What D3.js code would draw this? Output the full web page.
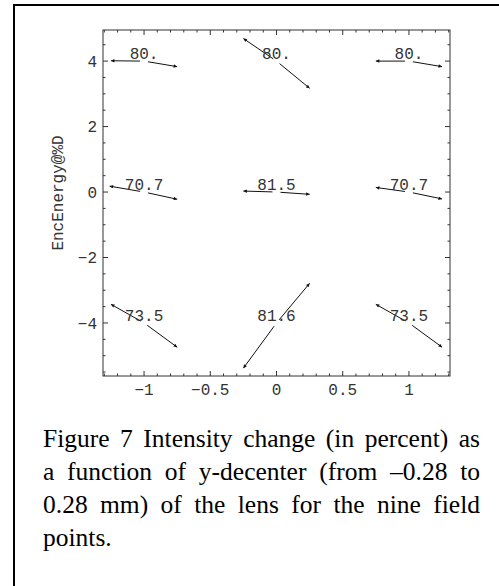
<!DOCTYPE html>
<html><head><meta charset="utf-8">
<script src="https://cdn.jsdelivr.net/npm/d3@7"></script>
<style>body{margin:0;background:#fff}svg{display:block}</style>
</head><body>
<svg id="c" width="499" height="586"></svg>
<script>
// ---- data ----
const fieldX = [-1, 0, 1, -1, 0, 1, -1, 0, 1];
const fieldY = [4, 4, 4, 0, 0, 0, -4, -4, -4];
const fieldLabels = ["80.", "80.", "80.", "70.7", "81.5", "70.7", "73.5", "81.6", "73.5"];
const leftDx = [-0.25, -0.25, -0.25, -0.26, -0.25, -0.25, -0.25, -0.25, -0.25];
const leftDy = [0.01, 0.69, 0.0, 0.18, 0.03, 0.14, 0.57, -1.38, 0.57];
const rightDx = [0.25, 0.25, 0.25, 0.25, 0.25, 0.25, 0.25, 0.25, 0.25];
const rightDy = [-0.17, -0.83, -0.17, -0.22, -0.07, -0.21, -0.74, 1.21, -0.74];
const xTicks = [-1, -0.5, 0, 0.5, 1];
const xTickLabels = ["\u22121", "\u22120.5", "0", "0.5", "1"];
const yTicks = [-4, -2, 0, 2, 4];
const yTickLabels = ["\u22124", "\u22122", "0", "2", "4"];
const yTitle = "EncEnergy@%D";
const captionLines = [
  "Figure 7 Intensity change (in percent) as",
  "a function of y-decenter (from \u20130.28 to",
  "0.28 mm) of the lens for the nine field",
  "points."
];

// ---- layout ----
const svg = d3.select("#c");
const L = 103, R = 450, T = 30, B = 376;
const x = d3.scaleLinear().domain([-1.31, 1.31]).range([L, R]);
const y = d3.scaleLinear().domain([-5.62, 4.95]).range([B, T]);
const mono = "'Liberation Mono', 'DejaVu Sans Mono', monospace";
const axisCol = "#333";
const textCol = "#333";

// outer frame (open on right/bottom as in the crop)
svg.append("path").attr("d", "M14,600 L14,5 L520,5")
  .attr("fill", "none").attr("stroke", "#000").attr("stroke-width", 2);

// plot frame
svg.append("rect").attr("x", L).attr("y", T).attr("width", R - L).attr("height", B - T)
  .attr("fill", "none").attr("stroke", axisCol).attr("stroke-width", 1);

// ticks
const g = svg.append("g").attr("stroke", axisCol).attr("stroke-width", 1);
const xMinor = d3.range(-13, 14).map(d => d / 10);
xMinor.forEach(v => {
  const major = Math.abs(v * 2 - Math.round(v * 2)) < 1e-9;
  const len = major ? 5 : 2.5;
  const px = x(v);
  g.append("line").attr("x1", px).attr("x2", px).attr("y1", B).attr("y2", B - len);
  g.append("line").attr("x1", px).attr("x2", px).attr("y1", T).attr("y2", T + len);
});
const yMinor = d3.range(-11, 10).map(d => d / 2);
yMinor.forEach(v => {
  const major = Math.abs(v / 2 - Math.round(v / 2)) < 1e-9;
  const len = major ? 5 : 2.5;
  const py = y(v);
  if (py < T || py > B) return;
  g.append("line").attr("x1", L).attr("x2", L + len).attr("y1", py).attr("y2", py);
  g.append("line").attr("x1", R).attr("x2", R - len).attr("y1", py).attr("y2", py);
});

// tick labels
svg.append("g").selectAll("text").data(xTicks).join("text")
  .attr("x", d => x(d)).attr("y", 395).attr("text-anchor", "middle")
  .attr("font-family", mono).attr("font-size", 16).attr("fill", textCol)
  .text((d, i) => xTickLabels[i]);
svg.append("g").selectAll("text").data(yTicks).join("text")
  .attr("x", 97).attr("y", d => y(d)).attr("dy", "0.35em").attr("text-anchor", "end")
  .attr("font-family", mono).attr("font-size", 16).attr("fill", textCol)
  .text((d, i) => yTickLabels[i]);

// y title
svg.append("text").attr("transform", "translate(63,193) rotate(-90)")
  .attr("text-anchor", "middle").attr("font-family", mono).attr("font-size", 16)
  .attr("fill", textCol).text(yTitle);

// arrowhead marker
svg.append("defs").append("marker").attr("id", "ah")
  .attr("viewBox", "0 0 10 10").attr("refX", 10).attr("refY", 5)
  .attr("markerWidth", 5).attr("markerHeight", 3.5).attr("markerUnits", "userSpaceOnUse")
  .attr("orient", "auto").append("path").attr("d", "M0,0 L10,5 L0,10 z").attr("fill", "#111");

// arrows
const gap = 4;
const arrows = svg.append("g");
fieldX.forEach((fx, i) => {
  const cx = x(fx), cy = y(fieldY[i]);
  [[leftDx[i], leftDy[i]], [rightDx[i], rightDy[i]]].forEach(([dx, dy]) => {
    const ex = x(fx + dx), ey = y(fieldY[i] + dy);
    const len = Math.hypot(ex - cx, ey - cy);
    const sx = cx + (ex - cx) / len * gap, sy = cy + (ey - cy) / len * gap;
    arrows.append("line").attr("x1", sx).attr("y1", sy).attr("x2", ex).attr("y2", ey)
      .attr("stroke", "#111").attr("stroke-width", 1).attr("marker-end", "url(#ah)");
  });
});

// field labels
svg.append("g").selectAll("text").data(fieldLabels).join("text")
  .attr("x", (d, i) => x(fieldX[i])).attr("y", (d, i) => y(fieldY[i]) - 2)
  .attr("text-anchor", "middle").attr("font-family", mono).attr("font-size", 16)
  .attr("fill", textCol).text(d => d);

// caption (justified)
const capX0 = 43, capX1 = 480, capY0 = 447, capDY = 33;
captionLines.forEach((line, i) => {
  const t = svg.append("text").attr("x", capX0).attr("y", capY0 + i * capDY)
    .attr("font-family", "'Liberation Serif', 'Times New Roman', serif")
    .attr("font-size", 25.5).attr("fill", "#000").attr("xml:space", "preserve").text(line);
  if (i < captionLines.length - 1) {
    const w = t.node().getComputedTextLength();
    const gaps = line.split(" ").length - 1;
    if (gaps > 0) t.attr("word-spacing", (capX1 - capX0 - w) / gaps);
  }
});
</script>
</body></html>
